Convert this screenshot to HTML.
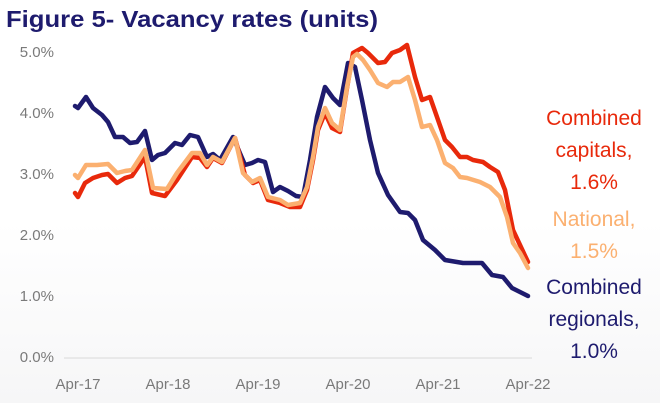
<!DOCTYPE html>
<html><head><meta charset="utf-8"><style>
html,body{margin:0;padding:0;}
body{width:660px;height:403px;overflow:hidden;background:linear-gradient(#fff 0%,#fff 55%,#f6f6f7 100%);font-family:"Liberation Sans",sans-serif;}
</style></head><body>
<svg width="660" height="403" xmlns="http://www.w3.org/2000/svg" style="position:absolute;left:0;top:0">
<text x="6" y="27" font-size="23" font-weight="bold" fill="#1e1b6e" font-family="Liberation Sans,sans-serif" textLength="372" lengthAdjust="spacingAndGlyphs">Figure 5- Vacancy rates (units)</text>
<g font-size="15" fill="#7a7a7a" text-anchor="end" font-family="Liberation Sans,sans-serif">
<text x="54" y="57">5.0%</text><text x="54" y="118">4.0%</text><text x="54" y="179">3.0%</text>
<text x="54" y="240">2.0%</text><text x="54" y="301">1.0%</text><text x="54" y="362">0.0%</text>
</g>
<g font-size="15" fill="#7a7a7a" text-anchor="middle" font-family="Liberation Sans,sans-serif">
<text x="78" y="389">Apr-17</text><text x="168" y="389">Apr-18</text><text x="258" y="389">Apr-19</text>
<text x="348" y="389">Apr-20</text><text x="438" y="389">Apr-21</text><text x="528" y="389">Apr-22</text>
</g>
<line x1="64" y1="358" x2="532" y2="358" stroke="#d9d9d9" stroke-width="1"/>
<g fill="none" stroke-width="4.5" stroke-linejoin="round" stroke-linecap="round">
<polyline stroke="#1e1b6e" points="75,106 78,108 86,97 93,108 102,115 108,122 115,137 123,137 130,143 137,142 145,131 152,160 158,155 165,153 175,143 182,145 190,135 198,137 207,157 213,154 220,160 233,137 245,165 252,163 258,160 265,162 273,192 280,187 288,191 296,196 303,197 310,160 317,117 325,87 333,98 340,105 348,63 355,67 362,100 370,140 378,173 388,195 400,212 408,213 415,220 423,240 435,250 445,260 463,263 482,263 492,275 503,277 512,288 528,296"/>
<polyline stroke="#e8290b" points="75,193 78,197 85,183 93,178 102,175 108,174 117,183 125,178 132,176 145,157 152,193 165,196 177,180 192,157 200,158 207,167 213,158 222,163 235,138 245,175 253,183 260,180 268,200 280,203 290,207 300,207 307,190 313,160 318,130 325,113 332,128 340,132 347,88 353,53 362,48 368,53 378,63 385,62 392,53 400,50 407,45 415,77 422,100 430,97 437,117 445,140 452,147 460,157 467,157 473,160 483,162 490,167 498,172 505,190 513,230 520,245 528,262"/>
<polyline stroke="#fbb070" points="75,175 78,178 86,165 97,165 108,164 117,173 125,171 132,170 145,150 153,188 167,189 177,173 192,153 200,153 207,165 213,157 222,162 235,138 243,173 252,182 260,178 268,197 280,200 288,205 300,203 307,187 313,157 318,127 325,108 332,123 340,130 347,87 353,57 357,54 363,60 370,70 378,83 387,87 393,82 400,82 408,77 415,100 422,127 430,125 437,140 445,163 453,168 460,177 467,178 480,182 490,187 500,197 507,217 513,243 520,253 528,268"/>
</g>
<g font-size="21" text-anchor="middle" font-family="Liberation Sans,sans-serif">
<text x="594" y="125" fill="#e8290b">Combined</text>
<text x="594" y="157" fill="#e8290b">capitals,</text>
<text x="594" y="189" fill="#e8290b">1.6%</text>
<text x="594" y="226" fill="#fbb070">National,</text>
<text x="594" y="258" fill="#fbb070">1.5%</text>
<text x="594" y="294" fill="#1e1b6e">Combined</text>
<text x="594" y="326" fill="#1e1b6e">regionals,</text>
<text x="594" y="358" fill="#1e1b6e">1.0%</text>
</g>
</svg>
</body></html>
